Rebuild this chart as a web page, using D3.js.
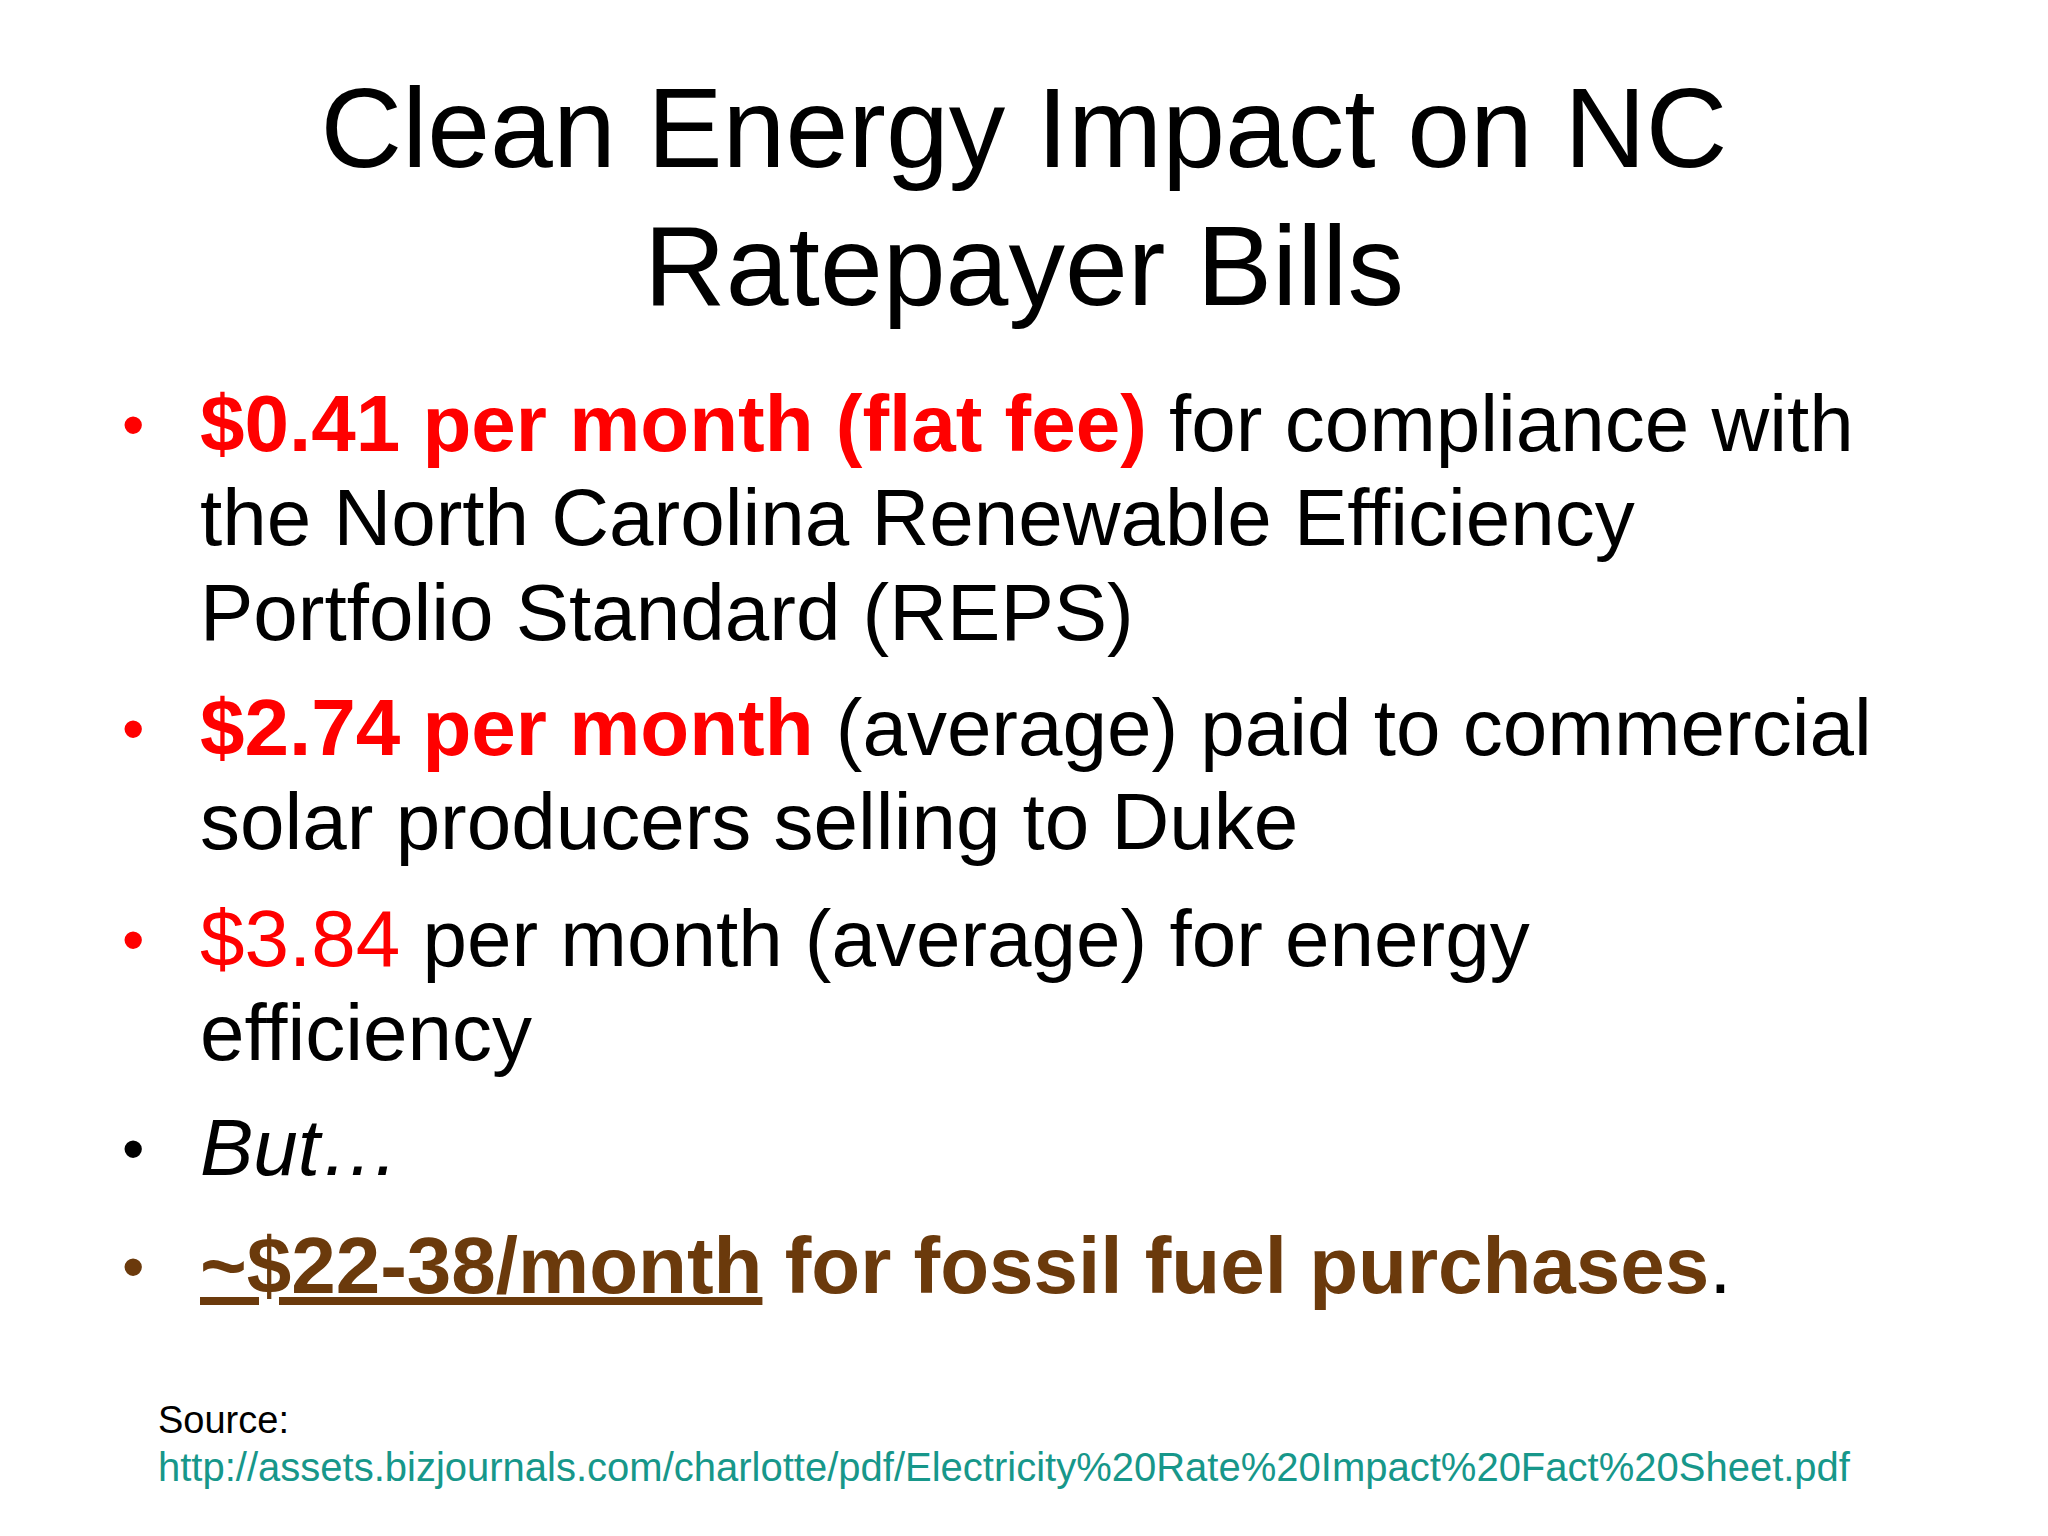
<!DOCTYPE html>
<html>
<head>
<meta charset="utf-8">
<script src="https://cdn.jsdelivr.net/npm/d3@7"></script>
<style>
  body { margin: 0; background: #fff; }
  svg { font-family: "Liberation Sans", Arial, sans-serif; }
</style>
</head>
<body>
<svg id="slide" width="2048" height="1536"></svg>
<script>
// slide text, kept in small arrays
var titleLines = ["Clean Energy Impact on NC", "Ratepayer Bills"];

// each bullet: list of lines, each line a list of [text, style]
var bullet1 = [
  [["$0.41 per month (flat fee)", "redBold"], [" for compliance with", "plain"]],
  [["the North Carolina Renewable Efficiency", "plain"]],
  [["Portfolio Standard (REPS)", "plain"]]
];
var bullet2 = [
  [["$2.74 per month", "redBold"], [" (average) paid to commercial", "plain"]],
  [["solar producers selling to Duke", "plain"]]
];
var bullet3 = [
  [["$3.84", "red"], [" per month (average) for energy", "plain"]],
  [["efficiency", "plain"]]
];
var bullet4 = [[["But\u2026", "italic"]]];
var bullet5 = [[["~$22-38/month", "brownUnder"], [" for fossil fuel purchases", "brownBold"], [".", "plain"]]];
var bullets = [bullet1, bullet2, bullet3, bullet4, bullet5];

var lineBaselines = [[451, 545, 640], [755, 849], [966, 1060], [1175], [1293]];
var sourceLabel = "Source:";
var sourceUrl = "http://assets.bizjournals.com/charlotte/pdf/Electricity%20Rate%20Impact%20Fact%20Sheet.pdf";

var styles = {
  plain: {fill: "#000", weight: "normal", fstyle: "normal"},
  red: {fill: "#ff0000", weight: "normal", fstyle: "normal"},
  redBold: {fill: "#ff0000", weight: "bold", fstyle: "normal"},
  italic: {fill: "#000", weight: "normal", fstyle: "italic"},
  brownBold: {fill: "#6b3a0c", weight: "bold", fstyle: "normal"},
  brownUnder: {fill: "#6b3a0c", weight: "bold", fstyle: "normal", under: true}
};

var svg = d3.select("#slide");

// title
svg.selectAll("text.title").data(titleLines).enter().append("text")
  .attr("class", "title")
  .attr("x", 1024)
  .attr("y", (d, i) => 167 + i * 138)
  .attr("text-anchor", "middle")
  .attr("font-size", 113)
  .attr("fill", "#000")
  .text(d => d);

// bullets
bullets.forEach((b, bi) => {
  var ys = lineBaselines[bi];
  svg.append("text")
    .attr("x", 122).attr("y", ys[0] - 4)
    .attr("font-size", 64)
    .attr("fill", bi < 3 ? "#ff0000" : (bi == 4 ? "#6b3a0c" : "#000"))
    .text("\u2022");
  b.forEach((line, li) => {
    var t = svg.append("text")
      .attr("x", 200).attr("y", ys[li])
      .attr("font-size", 80);
    t.selectAll("tspan").data(line).enter().append("tspan")
      .attr("fill", d => styles[d[1]].fill)
      .attr("font-weight", d => styles[d[1]].weight)
      .attr("font-style", d => styles[d[1]].fstyle)
      .attr("text-decoration", d => styles[d[1]].under ? "underline" : null)
      .style("white-space", "pre")
      .text(d => d[0]);
  });
});

// source
svg.append("text").attr("x", 158).attr("y", 1433)
  .attr("font-size", 38).attr("fill", "#000").text(sourceLabel);
svg.append("text").attr("x", 158).attr("y", 1481)
  .attr("font-size", 40).attr("fill", "#17978a").text(sourceUrl);
</script>
</body>
</html>
